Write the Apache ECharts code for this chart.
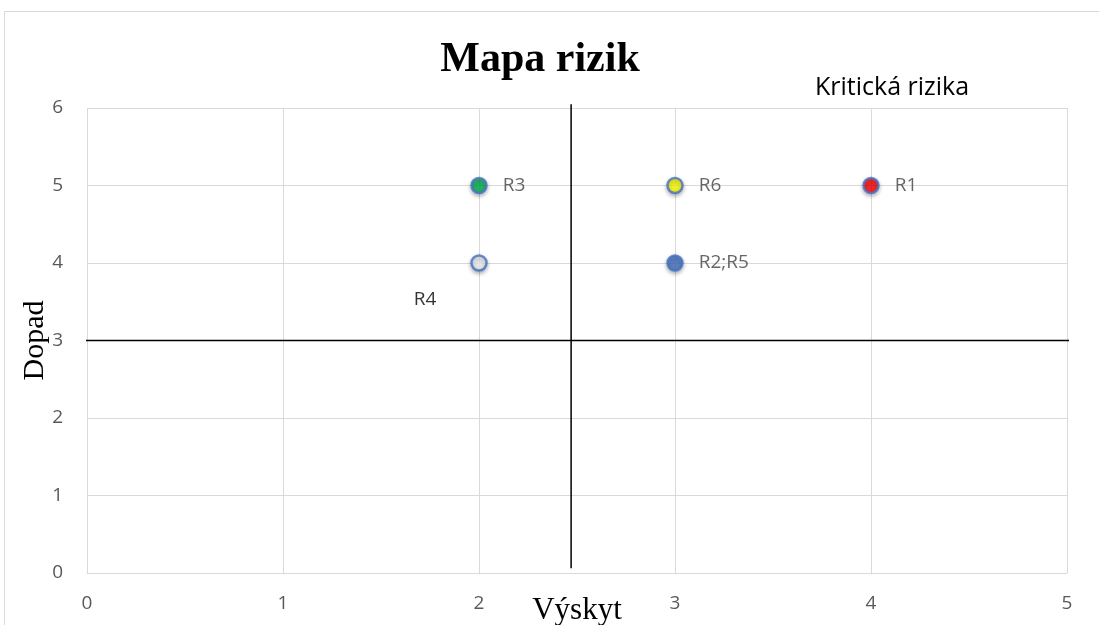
<!DOCTYPE html>
<html><head><meta charset="utf-8">
<script src="https://cdn.jsdelivr.net/npm/echarts@6/dist/echarts.min.js"></script>
<style>html,body{margin:0;padding:0;background:#fff}#c{width:1099px;height:625px}</style>
</head><body><div id="c"></div>
<script>
const riskNames = ['R1', 'R2;R5', 'R3', 'R4', 'R6'];
const occurrence = [4, 3, 2, 2, 3];
const impact = [5, 4, 5, 4, 5];
const xTicks = [0, 1, 2, 3, 4, 5];
const yTicks = [0, 1, 2, 3, 4, 5, 6];
const dividerX = [2.47, 2.47];
const dividerXY = [6.05, 0.06];
const dividerY = [3, 3];
const dividerYX = [-0.44, 5.02];

const fills = {'R1': '#FF0000', 'R2;R5': '#4472C4', 'R3': '#00B050', 'R4': '#F2F2F2', 'R6': '#FFFF00'};
const labelPos = {'R4': [-54, 37]};

const chart = echarts.init(document.getElementById('c'));
const pts = riskNames.map((n, i) => ({
  value: [occurrence[i], impact[i]],
  name: n,
  itemStyle: {color: fills[n]},
  label: labelPos[n] ? {position: 'inside', offset: labelPos[n], color: '#000'} : {}
}));
chart.setOption({
  animation: false,
  graphic: [
    {type: 'rect', shape: {x: 4.5, y: 11.5, width: 1200, height: 700}, style: {fill: 'none', stroke: '#d9d9d9', lineWidth: 1}},
    {type: 'text', left: 815, top: 75, style: {text: 'Kritická rizika', font: '25px "Open Sans"', fill: '#000'}}
  ],
  title: {text: 'Mapa rizik', left: 535, top: 34, textAlign: 'center',
    textStyle: {fontFamily: 'Liberation Serif', fontWeight: 'bold', fontSize: 42, color: '#000'}},
  grid: {left: 87, right: 32, top: 108, bottom: 52, containLabel: false, outerBoundsMode: 'none'},
  xAxis: {type: 'value', min: 0, max: 5, interval: 1,
    name: 'Výskyt', nameLocation: 'middle', nameGap: 22, nameMoveOverlap: false,
    nameTextStyle: {fontFamily: 'Liberation Serif', fontSize: 31, color: '#000', verticalAlign: 'top'},
    axisLine: {show: true, lineStyle: {color: '#d9d9d9'}}, axisTick: {show: false},
    axisLabel: {fontFamily: 'Open Sans', fontSize: 19, color: '#595959', margin: 21},
    splitLine: {lineStyle: {color: '#d9d9d9', width: 1}}},
  yAxis: {type: 'value', min: 0, max: 6, interval: 1,
    name: 'Dopad', nameLocation: 'middle', nameGap: 37, nameRotate: 90, nameMoveOverlap: false,
    nameTextStyle: {fontFamily: 'Liberation Serif', fontSize: 30, color: '#000'},
    axisLine: {show: false}, axisTick: {show: false},
    axisLabel: {fontFamily: 'Open Sans', fontSize: 19, color: '#595959', margin: 24},
    splitLine: {lineStyle: {color: '#d9d9d9', width: 1}}},
  series: [
    {type: 'line', data: dividerX.map((x, i) => [x, dividerXY[i]]), symbol: 'none', clip: false,
      lineStyle: {color: '#000', width: 1.5}, silent: true, z: 3},
    {type: 'line', data: dividerYX.map((x, i) => [x, dividerY[i]]), symbol: 'none', clip: false,
      lineStyle: {color: '#000', width: 1.5}, silent: true, z: 3},
    {type: 'scatter', data: pts, symbolSize: 15, z: 5,
      itemStyle: {borderColor: '#4472C4', borderWidth: 2.5, shadowBlur: 4, shadowColor: 'rgba(0,0,0,0.35)', shadowOffsetY: 2},
      label: {show: true, position: 'right', distance: 15, formatter: p => p.name,
        fontFamily: 'Open Sans', fontSize: 19, color: '#404040'}}
  ]
});
</script></body></html>
